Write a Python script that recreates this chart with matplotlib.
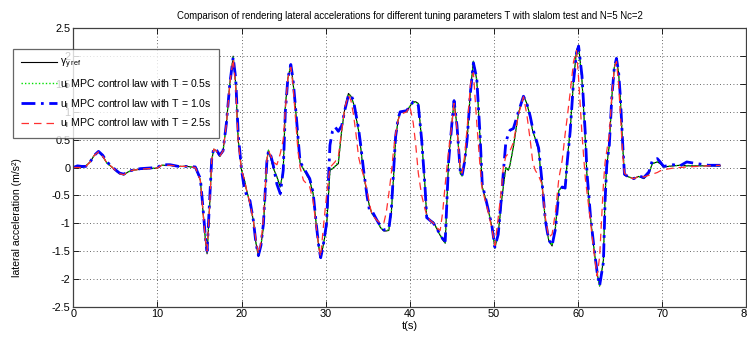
"""Lateral acceleration comparison for different tuning parameters T (slalom test)."""

import matplotlib

matplotlib.use("Agg")
import matplotlib.pyplot as plt

NARROW = ["Liberation Sans Narrow", "Liberation Sans", "DejaVu Sans"]
REGULAR = ["Liberation Sans", "DejaVu Sans"]

# time samples (s), shared by every series
t = [0.0, 0.5, 1.0, 1.5, 2.0, 2.5, 3.0, 3.5, 4.0, 4.5, 5.0, 5.5, 6.0, 6.5, 7.0, 8.0, 9.0, 10.0,
     10.5, 11.5, 12.5, 13.5, 14.5, 15.1, 15.4, 15.7, 15.9, 16.2, 16.45, 16.7, 17.0, 17.4, 17.8,
     18.2, 18.6, 19.0, 19.3, 19.6, 20.0, 20.3, 20.6, 21.0, 21.4, 21.7, 22.0, 22.3, 22.6, 23.0,
     23.2, 23.5, 23.75, 24.2, 24.6, 24.95, 25.2, 25.5, 25.85, 26.1, 26.4, 26.7, 26.95, 27.35,
     28.1, 28.5, 28.9, 29.2, 29.4, 29.7, 30.1, 30.5, 30.8, 31.1, 31.5, 31.9, 32.3, 32.7, 33.0,
     33.3, 33.6, 33.9, 34.2, 34.5, 34.9, 35.2, 35.5, 36.1, 36.5, 36.9, 37.2, 37.5, 37.8, 38.05,
     38.3, 38.6, 38.85, 39.6, 40.0, 40.4, 40.7, 41.0, 41.4, 41.8, 42.0, 42.4, 42.8, 43.2, 43.6,
     43.9, 44.2, 44.6, 45.0, 45.25, 45.6, 46.0, 46.2, 46.5, 46.8, 47.2, 47.55, 47.95, 48.35,
     48.6, 49.15, 49.75, 50.1, 50.5, 50.9, 51.1, 51.4, 51.7, 51.9, 52.3, 52.9, 53.5, 53.9, 54.3,
     54.6, 54.9, 55.3, 55.7, 56.1, 56.5, 56.9, 57.3, 57.7, 58.1, 58.45, 58.7, 59.05, 59.45,
     59.8, 60.05, 60.45, 60.85, 61.05, 61.45, 61.85, 62.25, 62.55, 63.0, 63.2, 63.4, 63.7, 64.0,
     64.3, 64.55, 64.8, 65.0, 65.3, 65.5, 66.0, 66.6, 67.2, 67.8, 68.4, 68.8, 69.4, 69.75,
     70.15, 71.3, 72.1, 72.9, 74.1, 75.5, 76.9]

# reference lateral acceleration gamma_y ref (m/s^2)
gamma_ref = [0.0, 0.02, 0.0, 0.03, 0.1, 0.22, 0.28, 0.2, 0.08, 0.02, -0.05, -0.11, -0.13, -0.08,
             -0.05, -0.03, -0.02, -0.01, 0.04, 0.04, 0.02, 0.02, 0.0, -0.23, -0.77, -1.3, -1.55,
             -0.7, 0.13, 0.33, 0.3, 0.2, 0.3, 0.79, 1.5, 2.0, 1.5, 0.49, -0.05, -0.2, -0.41,
             -0.65, -0.95, -1.35, -1.6, -1.4, -1.07, 0.13, 0.31, 0.15, 0.0, -0.17, -0.35, -0.05,
             1.09, 1.6, 1.84, 1.55, 1.09, 0.5, 0.08, -0.03, -0.23, -0.47, -1.07, -1.45, -1.63,
             -1.4, -1.07, -0.05, -0.02, 0.02, 0.07, 0.67, 1.09, 1.33, 1.28, 1.15, 0.9, 0.67, 0.3,
             -0.11, -0.47, -0.7, -0.83, -0.95, -1.08, -1.14, -1.14, -1.13, -0.8, -0.2, 0.5, 0.85,
             1.0, 1.0, 1.1, 1.18, 1.18, 1.15, 0.49, -0.35, -0.89, -0.95, -0.98, -1.1, -1.22, -1.3,
             -1.36, 0.13, 0.79, 1.21, 0.73, -0.11, -0.15, 0.1, 0.49, 1.39, 1.91, 1.57, 0.49,
             -0.35, -0.65, -1.07, -1.45, -1.18, -0.6, -0.35, 0.0, -0.05, 0.05, 0.37, 0.97, 1.29,
             1.15, 0.91, 0.65, 0.52, 0.3, -0.3, -0.95, -1.31, -1.41, -1.07, -0.41, -0.35, -0.37,
             0.13, 0.67, 1.57, 2.1, 2.2, 1.57, 0.49, -0.17, -0.89, -1.43, -1.9, -2.13, -1.66,
             -0.47, 0.05, 0.4, 1.27, 1.8, 1.96, 1.7, 1.27, 0.37, -0.14, -0.17, -0.2, -0.16, -0.2,
             -0.11, 0.07, 0.1, 0.07, 0.01, 0.03, 0.04, 0.03, 0.03, 0.03, 0.03]

# MPC control law, T = 0.5 s (almost on top of the reference)
u_t05 = [0.0, 0.02, 0.0, 0.03, 0.1, 0.22, 0.28, 0.2, 0.08, 0.02, -0.05, -0.11, -0.13, -0.08,
         -0.05, -0.03, -0.02, -0.01, 0.04, 0.04, 0.02, 0.02, 0.0, -0.22, -0.75, -1.28, -1.53,
         -0.68, 0.13, 0.33, 0.3, 0.2, 0.3, 0.8, 1.5, 1.98, 1.5, 0.5, -0.05, -0.2, -0.41,
         -0.65, -0.95, -1.33, -1.58, -1.4, -1.05, 0.13, 0.31, 0.15, 0.0, -0.17, -0.35, -0.05,
         1.08, 1.6, 1.83, 1.55, 1.09, 0.5, 0.08, -0.03, -0.23, -0.47, -1.07, -1.44, -1.62,
         -1.4, -1.05, -0.05, -0.02, 0.02, 0.1, 0.67, 1.09, 1.32, 1.28, 1.15, 0.9, 0.67, 0.3,
         -0.11, -0.47, -0.7, -0.82, -0.95, -1.07, -1.13, -1.13, -1.12, -0.8, -0.2, 0.5, 0.85,
         1.0, 1.0, 1.1, 1.17, 1.17, 1.14, 0.49, -0.35, -0.88, -0.95, -0.98, -1.1, -1.21, -1.29,
         -1.35, 0.13, 0.79, 1.2, 0.73, -0.11, -0.15, 0.1, 0.49, 1.39, 1.9, 1.57, 0.49,
         -0.35, -0.65, -1.07, -1.44, -1.18, -0.6, -0.35, 0.0, -0.05, 0.05, 0.37, 0.97, 1.28,
         1.15, 0.91, 0.65, 0.52, 0.3, -0.3, -0.95, -1.3, -1.4, -1.07, -0.41, -0.35, -0.37,
         0.13, 0.67, 1.57, 2.08, 2.18, 1.57, 0.49, -0.17, -0.89, -1.42, -1.89, -2.12, -1.66,
         -0.47, 0.05, 0.4, 1.27, 1.8, 1.95, 1.7, 1.27, 0.37, -0.14, -0.17, -0.2, -0.16, -0.2,
         -0.11, 0.07, 0.1, 0.07, 0.01, 0.03, 0.04, 0.03, 0.03, 0.03, 0.03]

# MPC control law, T = 1.0 s
u_t10 = [0.0, 0.03, 0.02, 0.02, 0.1, 0.22, 0.29, 0.22, 0.1, 0.03, -0.04, -0.1, -0.12, -0.07,
         -0.05, -0.02, -0.01, 0.0, 0.05, 0.05, 0.02, 0.02, 0.01, -0.2, -0.7, -1.25, -1.5,
         -0.6, 0.15, 0.35, 0.32, 0.22, 0.3, 0.8, 1.5, 1.98, 1.6, 0.6, -0.05, -0.35, -0.5,
         -0.6, -0.95, -1.35, -1.58, -1.4, -1.0, 0.1, 0.3, 0.2, 0.05, -0.3, -0.47, -0.05,
         1.0, 1.6, 1.85, 1.6, 1.1, 0.55, 0.1, 0.0, -0.2, -0.45, -1.05, -1.45, -1.62,
         -1.4, -1.0, 0.4, 0.65, 0.73, 0.65, 0.75, 1.05, 1.3, 1.3, 1.2, 0.95, 0.7, 0.35,
         -0.05, -0.5, -0.77, -0.78, -0.95, -1.05, -1.12, -1.12, -1.1, -0.75, -0.1, 0.55, 0.88,
         1.0, 1.02, 1.1, 1.18, 1.18, 1.12, 0.5, -0.35, -0.9, -0.95, -1.0, -1.1, -1.2, -1.28,
         -1.32, 0.1, 0.8, 1.2, 0.75, -0.1, -0.15, 0.1, 0.5, 1.35, 1.88, 1.6, 0.55,
         -0.3, -0.65, -1.05, -1.43, -1.2, -0.5, -0.1, 0.45, 0.6, 0.67, 0.7, 1.0, 1.28,
         1.15, 0.92, 0.7, 0.55, 0.35, -0.25, -0.95, -1.3, -1.4, -1.1, -0.45, -0.35, -0.37,
         0.1, 0.65, 1.55, 2.05, 2.18, 1.65, 0.6, -0.1, -0.85, -1.4, -1.88, -2.12, -1.7,
         -0.6, 0.05, 0.4, 1.27, 1.8, 1.96, 1.72, 1.3, 0.4, -0.12, -0.17, -0.2, -0.15, -0.18,
         -0.08, 0.12, 0.16, 0.1, 0.02, 0.05, 0.03, 0.1, 0.07, 0.04, 0.04]

# MPC control law, T = 2.5 s
u_t25 = [0.0, 0.0, 0.0, 0.02, 0.1, 0.22, 0.28, 0.2, 0.08, 0.02, -0.05, -0.11, -0.13, -0.08,
         -0.05, -0.03, -0.02, -0.01, 0.04, 0.04, 0.02, 0.02, 0.0, -0.23, -0.77, -1.3, -1.5,
         -0.7, 0.13, 0.33, 0.3, 0.2, 0.3, 0.79, 1.5, 1.95, 1.45, 0.45, -0.05, -0.2, -0.41,
         -0.65, -0.95, -1.3, -1.55, -1.35, -0.9, 0.13, 0.3, 0.2, 0.1, 0.05, 0.25, 0.5,
         1.05, 1.6, 1.8, 1.5, 0.9, 0.3, 0.0, -0.23, -0.35, -0.6, -1.1, -1.45, -1.6,
         -1.1, -0.5, 0.0, 0.05, 0.1, 0.2, 0.67, 1.1, 1.3, 1.2, 0.95, 0.6, 0.19, 0.0,
         -0.15, -0.4, -0.65, -0.85, -0.95, -1.0, -1.0, -0.8, -0.47, -0.1, 0.3, 0.6, 0.85,
         0.95, 1.0, 1.1, 0.8, 0.4, -0.1, -0.5, -0.75, -0.85, -0.95, -1.0, -1.08, -1.13, -0.8,
         -0.3, 0.3, 0.8, 1.15, 0.7, -0.05, -0.1, 0.2, 0.7, 1.5, 1.7, 0.8, 0.0,
         -0.4, -0.7, -1.1, -1.4, -0.9, -0.35, 0.0, 0.2, 0.25, 0.3, 0.45, 0.95, 1.27,
         0.95, 0.49, 0.1, -0.05, -0.15, -0.3, -0.9, -1.25, -1.2, -0.8, -0.2, 0.13, 0.6,
         0.9, 1.35, 1.9, 2.1, 1.6, 0.6, -0.2, -0.45, -0.95, -1.5, -1.95, -1.6, -0.3,
         0.1, 0.3, 0.6, 1.3, 1.8, 1.9, 1.5, 1.0, 0.2, -0.1, -0.17, -0.2, -0.16, -0.17,
         -0.14, -0.12, -0.09, -0.06, -0.04, -0.01, 0.0, 0.01, 0.02, 0.03, 0.04]

LABELS = [
    r"$\gamma_{y\ \mathrm{ref}}$",
    r"u$_\mathrm{l}$ MPC control law with T = 0.5s",
    r"u$_\mathrm{l}$ MPC control law with T = 1.0s",
    r"u$_\mathrm{l}$ MPC control law with T = 2.5s",
]
TITLE = ("Comparison of rendering lateral accelerations for different tuning "
         "parameters T with slalom test and N=5 Nc=2")
X_TICKS = [0, 10, 20, 30, 40, 50, 60, 70, 80]
Y_TICKS = [-2.5, -2, -1.5, -1, -0.5, 0, 0.5, 1, 1.5, 2, 2.5]
Y_TICK_LABELS = ["-2.5", "-2", "-1.5", "-1", "-0.5", "0", "0.5", "1", "1.5", "2", "2.5"]


def main():
    plt.rcParams["mathtext.fontset"] = "custom"
    plt.rcParams["mathtext.rm"] = "Liberation Sans"
    plt.rcParams["mathtext.it"] = "Liberation Sans"

    fig = plt.figure(figsize=(7.47, 3.37), dpi=100)
    ax = fig.add_axes([0.0981, 0.0899, 0.9012, 0.8261])

    ax.plot(t, gamma_ref, color="black", lw=0.8, label=LABELS[0])
    ax.plot(t, u_t05, color="#00e000", lw=1.0, ls=(0, (1, 1.5)), label=LABELS[1])
    ax.plot(t, u_t10, color="#0000ff", lw=2.0, ls=(0, (5, 2, 1, 2)), label=LABELS[2])
    ax.plot(t, u_t25, color="#ff3030", lw=0.9, ls=(0, (6, 4)), label=LABELS[3])

    ax.set_xlim(0, 80)
    ax.set_ylim(-2.5, 2.5)
    ax.set_xticks(X_TICKS)
    ax.set_xticklabels([str(v) for v in X_TICKS])
    ax.set_yticks(Y_TICKS)
    ax.set_yticklabels(Y_TICK_LABELS)
    ax.grid(True, color="black", lw=0.6, ls=(0, (1, 3)), alpha=0.8)
    ax.tick_params(direction="in", length=4, width=0.6, top=True, right=True,
                   labelsize=7.8, pad=2)
    for lab in ax.get_xticklabels() + ax.get_yticklabels():
        lab.set_family(NARROW)
    for sp in ax.spines.values():
        sp.set_color("#404040")
        sp.set_linewidth(0.9)

    ax.set_title(TITLE, fontsize=6.9, family=NARROW, pad=7)
    ax.set_xlabel("t(s)", fontsize=8, family=NARROW, labelpad=1)
    ax.set_ylabel("lateral acceleration (m/s²)", fontsize=7.6, family=REGULAR)
    ax.yaxis.set_label_coords(-0.076, 0.32)

    leg = fig.legend(loc="upper left", bbox_to_anchor=(13 / 747, 1 - 49 / 337),
                     prop={"family": REGULAR, "size": 7.6}, frameon=True, fancybox=False,
                     handlelength=3.4, handletextpad=0.3, labelspacing=0.55,
                     borderpad=0.75, borderaxespad=0.0)
    leg.get_frame().set_edgecolor("#404040")
    leg.get_frame().set_linewidth(0.9)

    fig.savefig("out.png", dpi=100)
    plt.close(fig)


if __name__ == "__main__":
    main()
